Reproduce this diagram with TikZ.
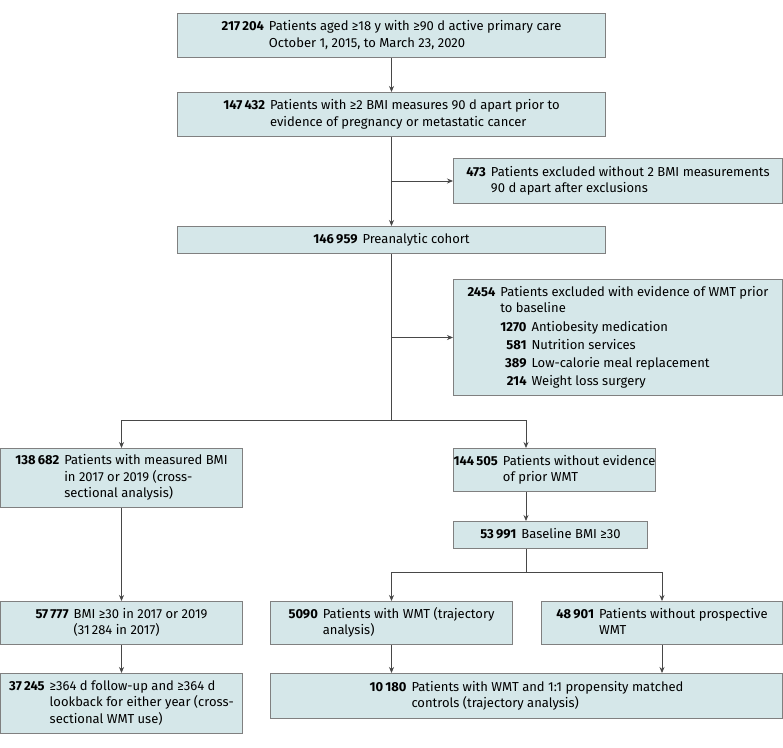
\documentclass[tikz,border=0pt]{standalone}
\usepackage{fontspec}
\setmainfont{Fira Sans}
\usepackage{xcolor}
\usepackage{tikz}
\usetikzlibrary{arrows.meta, positioning}
\definecolor{box-fill}{RGB}{213,231,233}
\definecolor{box-line}{gray}{.5}
\definecolor{flow-dark}{gray}{.28}
\tikzstyle{flowbox} = [rectangle, anchor=north west, inner sep=0pt, draw=box-line, line width=1pt,
    fill=box-fill, text centered, font=\fontsize{13}{16.5}\selectfont]
\tikzstyle{link}  = [draw=flow-dark, line width=0.8pt]
\tikzstyle{arrow} = [draw=flow-dark, line width=0.8pt, -{Stealth[length=6pt, width=5pt]}]
\newcommand{\flowentry}[2]{\textbf{#1}\hspace{5pt}\begin{tabular}[t]{@{}l@{}}#2\end{tabular}}

\begin{document}
\begin{tikzpicture}[x=1pt, y=1pt]

    \useasboundingbox (0,0) rectangle (783,-747);

    % ===============================
    % 1. NODES
    % ===============================

    % Main trunk
    \node[flowbox, minimum width=428pt, minimum height=44pt] (cohort_all) at (177,-13) {
        \flowentry{217\,204}{Patients aged ≥18 y with ≥90 d active primary care\\October 1, 2015, to March 23, 2020}
    };
    \node[flowbox, minimum width=428pt, minimum height=44pt] (cohort_bmi) at (177,-92) {
        \flowentry{147\,432}{Patients with ≥2 BMI measures 90 d apart prior to\\evidence of pregnancy or metastatic cancer}
    };
    \node[flowbox, minimum width=428pt, minimum height=27pt] (preanalytic) at (177,-226) {
        \flowentry{146\,959}{Preanalytic cohort}
    };

    % -------------------------------
    % EXCLUSIONS
    % -------------------------------
    \node[flowbox, minimum width=329pt, minimum height=45pt] (excl_bmi) at (453,-158) {
        \flowentry{473}{Patients excluded without 2 BMI measurements\\90 d apart after exclusions}
    };
    \node[flowbox, minimum width=329pt, minimum height=116pt] (excl_wmt) at (453,-279) {
        \begin{tabular}[t]{@{}r@{\hspace{5pt}}r@{\hspace{5pt}}l@{}}
          \textbf{2454} & \multicolumn{2}{@{}l@{}}{Patients excluded with evidence of WMT prior}\\
                        & \multicolumn{2}{@{}l@{}}{to baseline}\\[2pt]
                        & \textbf{1270} & Antiobesity medication\\[1.5pt]
                        & \textbf{581}  & Nutrition services\\[1.5pt]
                        & \textbf{389}  & Low-calorie meal replacement\\[1.5pt]
                        & \textbf{214}  & Weight loss surgery
        \end{tabular}
    };

    % -------------------------------
    % LEFT BRANCH (cross-sectional)
    % -------------------------------
    \node[flowbox, minimum width=242pt, minimum height=59pt] (cross_all) at (0,-448) {
        \flowentry{138\,682}{Patients with measured BMI\\in 2017 or 2019 (cross-\\sectional analysis)}
    };
    \node[flowbox, minimum width=242pt, minimum height=43pt] (cross_bmi) at (0,-601) {
        \flowentry{57\,777}{BMI ≥30 in 2017 or 2019\\(31\,284 in 2017)}
    };
    \node[flowbox, minimum width=242pt, minimum height=60pt] (cross_final) at (0,-673) {
        \flowentry{37\,245}{≥364 d follow-up and ≥364 d\\lookback for either year (cross-\\sectional WMT use)}
    };

    % -------------------------------
    % RIGHT BRANCH (trajectory)
    % -------------------------------
    \node[flowbox, minimum width=194pt, minimum height=43pt] (traj_all) at (453,-448) {
        \flowentry{144\,505}{Patients without evidence\\of prior WMT}
    };
    \node[flowbox, minimum width=194pt, minimum height=27pt] (traj_bmi) at (453,-521) {
        \flowentry{53\,991}{Baseline BMI ≥30}
    };
    \node[flowbox, minimum width=242pt, minimum height=43pt] (traj_wmt) at (270,-601) {
        \flowentry{5090}{Patients with WMT (trajectory\\analysis)}
    };
    \node[flowbox, minimum width=241pt, minimum height=43pt] (traj_nowmt) at (541,-601) {
        \flowentry{48\,901}{Patients without prospective\\WMT}
    };
    \node[flowbox, minimum width=512pt, minimum height=45pt] (traj_matched) at (270,-673) {
        \flowentry{10\,180}{Patients with WMT and 1:1 propensity matched\\controls (trajectory analysis)}
    };

    % ===============================
    % 2. CONNECTIONS
    % ===============================
    \coordinate (split_main) at (cohort_all.south |- 0,-420);
    \coordinate (traj_col)   at (526,-420);
    \coordinate (split_traj) at (cohort_all.south |- 0,-572);

    % Trunk and exclusions
    \draw[arrow] (cohort_all.south) -- (cohort_bmi.north);
    \draw[arrow] (cohort_bmi.south) -- (preanalytic.north);
    \draw[arrow] (cohort_bmi.south |- excl_bmi.west) -- (excl_bmi.west);
    \draw[link]  (preanalytic.south) -- (split_main);
    \draw[arrow] (preanalytic.south |- excl_wmt.west) -- (excl_wmt.west);

    % Split into both analyses
    \draw[arrow] (split_main) -| (cross_all.north);
    \draw[arrow] (split_main) -- (traj_col) -- (traj_col |- traj_all.north);

    % Left branch
    \draw[arrow] (cross_all.south) -- (cross_bmi.north);
    \draw[arrow] (cross_bmi.south) -- (cross_final.north);

    % Right branch
    \draw[arrow] (traj_col |- traj_all.south) -- (traj_col |- traj_bmi.north);
    \draw[link]  (traj_col |- traj_bmi.south) -- (traj_col |- split_traj);
    \draw[arrow] (split_traj) -| (traj_wmt.north);
    \draw[arrow] (split_traj) -| (traj_nowmt.north);
    \draw[arrow] (traj_wmt.south) -- (traj_wmt.south |- traj_matched.north);
    \draw[arrow] (traj_nowmt.south) -- (traj_nowmt.south |- traj_matched.north);

\end{tikzpicture}
\end{document}
